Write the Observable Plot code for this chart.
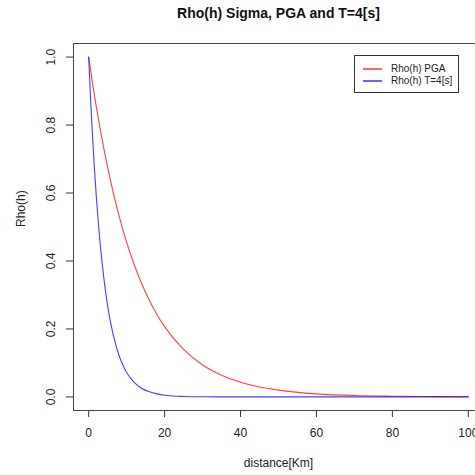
<!DOCTYPE html>
<html>
<head>
<meta charset="utf-8">
<script src="https://cdn.jsdelivr.net/npm/d3@7"></script>
<script src="https://cdn.jsdelivr.net/npm/@observablehq/plot@0.6"></script>
<style>
  html, body { margin: 0; padding: 0; background: white; overflow: hidden; }
  #wrap { position: relative; width: 475px; height: 475px; }
  #legend { position: absolute; left: 354px; top: 55px; width: 103px; height: 36px;
            border: 1px solid #333; background: white; font-family: "Liberation Sans", Arial, sans-serif;
            font-size: 10px; color: #222; }
  .sw { position: absolute; left: 8px; width: 19px; height: 2px; }
  .lb { position: absolute; left: 36px; line-height: 12px; }
</style>
</head>
<body>
<div id="wrap"></div>
<script>
// Distance [km] and Rho(h)
const pgaDist = [0, 1, 2, 3, 4, 5, 6, 8, 10, 12, 14, 16, 18, 20, 25, 30, 35, 40, 45, 50, 60, 70, 80, 90, 100];
const pgaRho  = [1.0, 0.924, 0.854, 0.790, 0.730, 0.675, 0.624, 0.533, 0.455, 0.389, 0.332, 0.284, 0.242, 0.207,
                 0.140, 0.094, 0.064, 0.043, 0.029, 0.020, 0.009, 0.004, 0.002, 0.001, 0.0004];
const t4Dist = [0, 0.5, 1, 1.5, 2, 3, 4, 5, 6, 7, 8, 9, 10, 12, 14, 16, 18, 20, 25, 30, 40, 60, 80, 100];
const t4Rho  = [1.0, 0.877, 0.769, 0.674, 0.591, 0.454, 0.349, 0.268, 0.206, 0.159, 0.122, 0.094, 0.072,
                0.043, 0.025, 0.015, 0.009, 0.005, 0.0014, 0.0004, 0.0, 0.0, 0.0, 0.0];
const xTicks = [0, 20, 40, 60, 80, 100];
const yTicks = [0.0, 0.2, 0.4, 0.6, 0.8, 1.0];
const seriesNames = ["Rho(h) PGA", "Rho(h) T=4[s]"];
const seriesColors = ["#ff0000", "#0000ff"];
const titleText = "Rho(h) Sigma, PGA and T=4[s]";
const xLabel = "distance[Km]";
const yLabel = "Rho(h)";

const pga = pgaDist.map((d, i) => ({d, r: pgaRho[i]}));
const t4 = t4Dist.map((d, i) => ({d, r: t4Rho[i]}));

const font = "'Liberation Sans', Arial, sans-serif";
const chart = Plot.plot({
  width: 475,
  height: 475,
  marginLeft: 73,
  marginRight: -8,
  marginTop: 43,
  marginBottom: 65,
  style: {fontFamily: font, fontSize: "12px", color: "#222", background: "white"},
  x: {domain: [-4, 104], axis: null},
  y: {domain: [-0.04, 1.04], axis: null},
  marks: [
    Plot.frame({stroke: "#444"}),
    Plot.axisX(xTicks, {label: null, tickSize: 7, tickPadding: 11, fontSize: 12, stroke: "#333", tickFormat: d => String(d)}),
    Plot.axisY(yTicks, {label: null, tickSize: 7, tickPadding: 12, tickRotate: -90, fontSize: 12, stroke: "#333", tickFormat: d3.format(".1f")}),
    Plot.line(pga, {x: "d", y: "r", stroke: seriesColors[0], strokeOpacity: 0.75, strokeWidth: 1.1, curve: "monotone-x"}),
    Plot.line(t4, {x: "d", y: "r", stroke: seriesColors[1], strokeOpacity: 0.75, strokeWidth: 1.1, curve: "monotone-x"}),
    Plot.text([titleText], {frameAnchor: "top", dy: -30, fontSize: 14, fontWeight: "bold", fill: "#111", lineAnchor: "middle"}),
    Plot.text([xLabel], {frameAnchor: "bottom", dy: 53, fontSize: 12, fill: "#222", lineAnchor: "middle"}),
    Plot.text([yLabel], {frameAnchor: "left", dx: -52, rotate: -90, fontSize: 12, fill: "#222", lineAnchor: "middle"})
  ]
});
const wrap = document.getElementById("wrap");
wrap.appendChild(chart);

const legend = document.createElement("div");
legend.id = "legend";
seriesNames.forEach((name, i) => {
  const sw = document.createElement("div");
  sw.className = "sw";
  sw.style.top = (12 + i * 12) + "px";
  sw.style.backgroundColor = seriesColors[i];
  sw.style.opacity = "0.6";
  legend.appendChild(sw);
  const lb = document.createElement("div");
  lb.className = "lb";
  lb.style.top = (6.5 + i * 12.5) + "px";
  lb.textContent = name;
  legend.appendChild(lb);
});
wrap.appendChild(legend);
</script>
</body>
</html>
